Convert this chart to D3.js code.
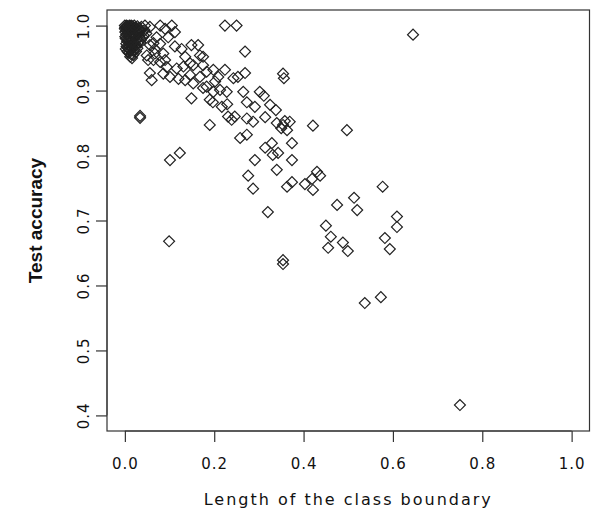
<!DOCTYPE html>
<html>
<head>
<meta charset="utf-8">
<script src="https://cdn.jsdelivr.net/npm/d3@7"></script>
<style>
  body { margin: 0; background: #fff; }
  text { fill: #111; }
</style>
</head>
<body>
<svg width="594" height="514"></svg>
<script>
// x = length of the class boundary, y = test accuracy (one entry per dataset)
const boundaryLength = [
  0.000,0.002,0.004,0.005,0.006,0.008,0.010,0.011,0.012,0.014,0.015,0.017,0.019,0.021,0.023,0.025,0.028,0.031,0.034,0.037,
  0.001,0.003,0.006,0.009,0.012,0.016,0.020,0.024,0.029,0.033,
  0.002,0.005,0.008,0.011,0.015,0.018,0.022,0.026,0.030,
  0.004,0.007,0.010,0.013,0.017,0.021,0.025,
  0.009,0.014,0.019,
  0.000,0.001,0.003,0.039,0.042,0.036,
  0.001,0.003,0.005,0.007,0.009,0.013,0.016,0.018,0.020,0.024,0.027,0.032,0.035,0.040,0.044,0.048,
  0.002,0.006,0.010,0.014,0.019,0.023,0.028,0.012,0.016,
  0.045,0.056,0.079,0.090,0.105,0.112,0.097,0.071,0.056,0.067,0.079,0.049,0.064,0.086,0.079,0.094,0.086,0.116,0.127,0.135,
  0.149,0.164,0.168,0.153,0.146,0.135,0.175,0.183,0.120,0.101,0.224,0.250,0.112,0.064,0.067,0.090,0.052,0.056,0.060,0.131,
  0.146,0.175,0.168,0.153,0.198,0.209,0.224,0.243,0.253,0.269,0.269,0.265,0.228,0.198,0.175,0.149,0.190,0.217,0.231,0.246,
  0.239,0.273,0.190,0.034,0.034,0.202,0.183,0.213,
  0.197,0.229,0.273,0.291,0.314,0.287,0.340,0.354,0.363,0.369,0.258,0.273,0.374,0.101,0.123,0.314,0.329,0.331,0.343,0.291,
  0.374,0.340,0.276,0.287,0.374,0.363,0.320,
  0.350,0.358,0.421,0.497,0.403,0.419,0.421,0.430,0.437,0.577,0.475,0.513,0.520,0.450,0.461,0.488,0.455,0.499,0.609,0.609,
  0.582,0.593,0.537,0.573,0.750,0.645,0.354,0.354,0.099,
  0.302,0.311,0.338,0.354,0.356,0.325
];
const testAccuracy = [
  1.000,0.998,1.000,0.995,0.999,0.997,1.000,0.993,0.998,1.000,0.996,0.999,0.994,1.000,0.997,0.992,0.999,0.996,0.993,0.998,
  0.990,0.986,0.988,0.984,0.987,0.985,0.988,0.983,0.987,0.982,
  0.980,0.976,0.978,0.974,0.977,0.972,0.975,0.970,0.974,
  0.968,0.965,0.969,0.962,0.966,0.963,0.960,
  0.958,0.956,0.955,
  0.995,0.983,0.972,0.990,0.985,0.978,
  0.997,0.992,0.981,0.991,0.979,0.995,0.981,0.990,0.971,0.996,0.979,0.989,0.974,0.982,0.993,0.988,
  0.964,0.960,0.963,0.967,0.961,0.968,0.965,0.952,0.950,
  1.000,0.998,1.000,0.995,1.000,0.990,0.982,0.982,0.970,0.964,0.972,0.954,0.947,0.957,0.944,0.936,0.926,0.934,0.964,0.952,
  0.970,0.970,0.954,0.939,0.924,0.916,0.939,0.929,0.918,0.921,1.000,1.000,0.968,0.973,0.957,0.947,0.947,0.927,0.916,0.937,
  0.942,0.952,0.921,0.911,0.932,0.921,0.932,0.919,0.921,0.960,0.927,0.898,0.898,0.898,0.904,0.888,0.886,0.875,0.860,0.860,
  0.855,0.857,0.847,0.861,0.858,0.914,0.906,0.901,
  0.882,0.879,0.882,0.875,0.859,0.852,0.850,0.847,0.839,0.852,0.827,0.832,0.819,0.793,0.804,0.812,0.819,0.801,0.804,0.793,
  0.793,0.778,0.769,0.749,0.759,0.752,0.713,
  0.842,0.853,0.846,0.839,0.756,0.764,0.747,0.775,0.769,0.752,0.724,0.735,0.716,0.692,0.675,0.666,0.658,0.653,0.706,0.690,
  0.673,0.656,0.573,0.582,0.416,0.986,0.639,0.633,0.668,
  0.898,0.892,0.870,0.926,0.919,0.878
];

const xTicks = [0, 0.2, 0.4, 0.6, 0.8, 1.0];
const yTicks = [0.4, 0.5, 0.6, 0.7, 0.8, 0.9, 1.0];
const xTitle = "Length of the class boundary";
const yTitle = "Test accuracy";

const plotLeft = 107, plotRight = 589.5, plotTop = 10, plotBottom = 431;
const svg = d3.select("svg");

svg.append("rect").attr("width", 594).attr("height", 514).attr("fill", "#fff");

// R style: axis limits padded by 4%
const xScale = d3.scaleLinear().domain([-0.04, 1.04]).range([plotLeft, plotRight]);
const yScale = d3.scaleLinear().domain([0.376, 1.024]).range([plotBottom, plotTop]);

// points (pch 5 style open diamonds)
const diamond = d3.symbol().type(d3.symbolSquare).size(60);
svg.append("g")
   .selectAll("path")
   .data(boundaryLength.map((x, i) => [x, testAccuracy[i]]))
   .enter()
   .append("path")
   .attr("d", diamond)
   .attr("transform", d => "translate(" + xScale(d[0]) + "," + yScale(d[1]) + ") rotate(45)")
   .attr("fill", "none")
   .attr("stroke", "#222")
   .attr("stroke-width", 1.2);

// box
svg.append("rect")
   .attr("x", plotLeft).attr("y", plotTop)
   .attr("width", plotRight - plotLeft).attr("height", plotBottom - plotTop)
   .attr("fill", "none")
   .attr("stroke", "#333")
   .attr("stroke-width", 1.2);

// axes
const xAxis = d3.axisBottom(xScale).tickValues(xTicks).tickSize(11).tickPadding(16)
                .tickFormat(d3.format(".1f"));
const yAxis = d3.axisLeft(yScale).tickValues(yTicks).tickSize(11).tickPadding(0)
                .tickFormat(d3.format(".1f"));

const gx = svg.append("g").attr("transform", "translate(0," + plotBottom + ")").call(xAxis);
gx.select(".domain").attr("d", "M" + xScale(0) + ",0H" + xScale(1)).attr("stroke", "#333");
gx.selectAll(".tick line").attr("stroke", "#333").attr("stroke-width", 1.2);
gx.selectAll(".tick text")
  .attr("font-family", "DejaVu Sans").attr("font-size", 15)
  .attr("letter-spacing", "1px").attr("fill", "#111");

const gy = svg.append("g").attr("transform", "translate(" + plotLeft + ",0)").call(yAxis);
gy.select(".domain").attr("d", "M0," + yScale(0.4) + "V" + yScale(1.0)).attr("stroke", "#333");
gy.selectAll(".tick line").attr("stroke", "#333").attr("stroke-width", 1.2);
gy.selectAll(".tick text")
  .attr("font-family", "DejaVu Sans").attr("font-size", 15)
  .attr("letter-spacing", "1px").attr("fill", "#111")
  .attr("text-anchor", "middle")
  .attr("x", 0).attr("dy", 0)
  .attr("transform", "translate(-18,0) rotate(-90)");

// titles
svg.append("text")
   .attr("x", (plotLeft + plotRight) / 2).attr("y", 505)
   .attr("text-anchor", "middle")
   .attr("font-family", "DejaVu Sans").attr("font-size", 16)
   .attr("letter-spacing", "2px")
   .text(xTitle);

svg.append("text")
   .attr("transform", "translate(42," + ((plotTop + plotBottom) / 2) + ") rotate(-90)")
   .attr("text-anchor", "middle")
   .attr("font-family", "Liberation Sans").attr("font-weight", "bold").attr("font-size", 19)
   .text(yTitle);
</script>
</body>
</html>
